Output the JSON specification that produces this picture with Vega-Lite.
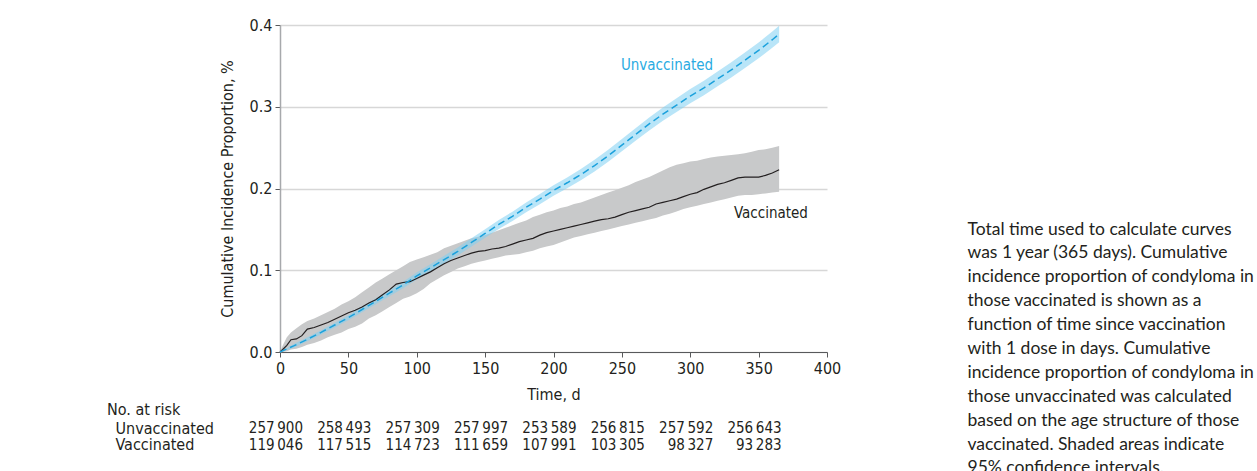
{
  "$schema": "https://vega.github.io/schema/vega-lite/v6.json",
  "padding": {"left": 107, "top": 17, "right": 0, "bottom": 0},
  "background": "white",
  "config": {
    "view": {"stroke": null},
    "font": "Liberation Sans Narrow, DejaVu Sans Condensed, Roboto, sans-serif",
    "locale": {"number": {"decimal": ".", "thousands": "\u2009", "grouping": [3], "currency": ["$", ""]}},
    "axis": {"labelFontSize": 16, "titleFontSize": 16, "labelColor": "#231f20", "titleColor": "#231f20", "titleFontWeight": "normal"}
  },
  "datasets": {
    "vaccinated": [
      {"day": 0, "est": 0.000, "lo": 0.000, "hi": 0.000},
      {"day": 2, "est": 0.003, "lo": 0.000, "hi": 0.008},
      {"day": 5, "est": 0.008, "lo": 0.001, "hi": 0.018},
      {"day": 8, "est": 0.015, "lo": 0.003, "hi": 0.024},
      {"day": 12, "est": 0.016, "lo": 0.004, "hi": 0.029},
      {"day": 16, "est": 0.020, "lo": 0.006, "hi": 0.034},
      {"day": 20, "est": 0.028, "lo": 0.009, "hi": 0.038},
      {"day": 25, "est": 0.030, "lo": 0.011, "hi": 0.041},
      {"day": 30, "est": 0.033, "lo": 0.014, "hi": 0.045},
      {"day": 35, "est": 0.036, "lo": 0.018, "hi": 0.049},
      {"day": 40, "est": 0.040, "lo": 0.021, "hi": 0.053},
      {"day": 45, "est": 0.044, "lo": 0.024, "hi": 0.058},
      {"day": 50, "est": 0.048, "lo": 0.028, "hi": 0.062},
      {"day": 55, "est": 0.051, "lo": 0.031, "hi": 0.067},
      {"day": 60, "est": 0.055, "lo": 0.035, "hi": 0.073},
      {"day": 65, "est": 0.060, "lo": 0.041, "hi": 0.079},
      {"day": 70, "est": 0.064, "lo": 0.045, "hi": 0.085},
      {"day": 75, "est": 0.070, "lo": 0.050, "hi": 0.090},
      {"day": 80, "est": 0.076, "lo": 0.055, "hi": 0.095},
      {"day": 85, "est": 0.083, "lo": 0.060, "hi": 0.100},
      {"day": 90, "est": 0.085, "lo": 0.065, "hi": 0.105},
      {"day": 95, "est": 0.086, "lo": 0.068, "hi": 0.110},
      {"day": 100, "est": 0.090, "lo": 0.072, "hi": 0.113},
      {"day": 105, "est": 0.094, "lo": 0.077, "hi": 0.116},
      {"day": 110, "est": 0.098, "lo": 0.084, "hi": 0.119},
      {"day": 115, "est": 0.103, "lo": 0.089, "hi": 0.122},
      {"day": 120, "est": 0.108, "lo": 0.094, "hi": 0.127},
      {"day": 125, "est": 0.112, "lo": 0.098, "hi": 0.130},
      {"day": 130, "est": 0.115, "lo": 0.102, "hi": 0.133},
      {"day": 135, "est": 0.118, "lo": 0.105, "hi": 0.136},
      {"day": 140, "est": 0.121, "lo": 0.108, "hi": 0.139},
      {"day": 145, "est": 0.123, "lo": 0.110, "hi": 0.141},
      {"day": 150, "est": 0.124, "lo": 0.112, "hi": 0.143},
      {"day": 155, "est": 0.126, "lo": 0.114, "hi": 0.146},
      {"day": 160, "est": 0.127, "lo": 0.116, "hi": 0.149},
      {"day": 165, "est": 0.129, "lo": 0.118, "hi": 0.152},
      {"day": 170, "est": 0.132, "lo": 0.119, "hi": 0.155},
      {"day": 175, "est": 0.135, "lo": 0.120, "hi": 0.158},
      {"day": 180, "est": 0.137, "lo": 0.122, "hi": 0.161},
      {"day": 185, "est": 0.139, "lo": 0.124, "hi": 0.165},
      {"day": 190, "est": 0.143, "lo": 0.127, "hi": 0.168},
      {"day": 195, "est": 0.146, "lo": 0.129, "hi": 0.171},
      {"day": 200, "est": 0.148, "lo": 0.131, "hi": 0.173},
      {"day": 205, "est": 0.150, "lo": 0.134, "hi": 0.176},
      {"day": 210, "est": 0.152, "lo": 0.137, "hi": 0.178},
      {"day": 215, "est": 0.154, "lo": 0.140, "hi": 0.181},
      {"day": 220, "est": 0.156, "lo": 0.142, "hi": 0.183},
      {"day": 225, "est": 0.158, "lo": 0.144, "hi": 0.186},
      {"day": 230, "est": 0.160, "lo": 0.146, "hi": 0.189},
      {"day": 235, "est": 0.162, "lo": 0.148, "hi": 0.192},
      {"day": 240, "est": 0.163, "lo": 0.150, "hi": 0.195},
      {"day": 245, "est": 0.165, "lo": 0.152, "hi": 0.198},
      {"day": 250, "est": 0.168, "lo": 0.154, "hi": 0.201},
      {"day": 255, "est": 0.171, "lo": 0.156, "hi": 0.204},
      {"day": 260, "est": 0.173, "lo": 0.158, "hi": 0.208},
      {"day": 265, "est": 0.175, "lo": 0.160, "hi": 0.211},
      {"day": 270, "est": 0.177, "lo": 0.162, "hi": 0.214},
      {"day": 275, "est": 0.181, "lo": 0.164, "hi": 0.218},
      {"day": 280, "est": 0.183, "lo": 0.167, "hi": 0.222},
      {"day": 285, "est": 0.185, "lo": 0.169, "hi": 0.226},
      {"day": 290, "est": 0.187, "lo": 0.172, "hi": 0.229},
      {"day": 295, "est": 0.190, "lo": 0.175, "hi": 0.231},
      {"day": 300, "est": 0.193, "lo": 0.177, "hi": 0.233},
      {"day": 305, "est": 0.195, "lo": 0.179, "hi": 0.234},
      {"day": 310, "est": 0.199, "lo": 0.181, "hi": 0.236},
      {"day": 315, "est": 0.202, "lo": 0.183, "hi": 0.238},
      {"day": 320, "est": 0.205, "lo": 0.185, "hi": 0.239},
      {"day": 325, "est": 0.207, "lo": 0.187, "hi": 0.240},
      {"day": 330, "est": 0.210, "lo": 0.189, "hi": 0.241},
      {"day": 335, "est": 0.213, "lo": 0.191, "hi": 0.242},
      {"day": 340, "est": 0.214, "lo": 0.192, "hi": 0.243},
      {"day": 345, "est": 0.214, "lo": 0.192, "hi": 0.245},
      {"day": 350, "est": 0.214, "lo": 0.193, "hi": 0.247},
      {"day": 355, "est": 0.216, "lo": 0.194, "hi": 0.248},
      {"day": 360, "est": 0.219, "lo": 0.195, "hi": 0.250},
      {"day": 365, "est": 0.223, "lo": 0.196, "hi": 0.252}
    ],
    "unvaccinated": [
      {"day": 0, "est": 0.000, "lo": 0.000, "hi": 0.000},
      {"day": 10, "est": 0.0075, "lo": 0.0053, "hi": 0.0097},
      {"day": 20, "est": 0.0155, "lo": 0.0131, "hi": 0.0179},
      {"day": 30, "est": 0.024, "lo": 0.0213, "hi": 0.0267},
      {"day": 40, "est": 0.033, "lo": 0.0301, "hi": 0.0359},
      {"day": 50, "est": 0.042, "lo": 0.0389, "hi": 0.0451},
      {"day": 60, "est": 0.052, "lo": 0.0487, "hi": 0.0553},
      {"day": 70, "est": 0.062, "lo": 0.0585, "hi": 0.0655},
      {"day": 80, "est": 0.072, "lo": 0.0682, "hi": 0.0758},
      {"day": 90, "est": 0.082, "lo": 0.078, "hi": 0.086},
      {"day": 100, "est": 0.093, "lo": 0.0888, "hi": 0.0972},
      {"day": 110, "est": 0.103, "lo": 0.0986, "hi": 0.1074},
      {"day": 120, "est": 0.113, "lo": 0.1084, "hi": 0.1176},
      {"day": 130, "est": 0.123, "lo": 0.1181, "hi": 0.1279},
      {"day": 140, "est": 0.134, "lo": 0.1289, "hi": 0.1391},
      {"day": 150, "est": 0.145, "lo": 0.1397, "hi": 0.1503},
      {"day": 160, "est": 0.156, "lo": 0.1505, "hi": 0.1615},
      {"day": 170, "est": 0.166, "lo": 0.1603, "hi": 0.1717},
      {"day": 180, "est": 0.177, "lo": 0.171, "hi": 0.183},
      {"day": 190, "est": 0.187, "lo": 0.1808, "hi": 0.1932},
      {"day": 200, "est": 0.1976, "lo": 0.1912, "hi": 0.204},
      {"day": 210, "est": 0.207, "lo": 0.2004, "hi": 0.2136},
      {"day": 220, "est": 0.217, "lo": 0.2102, "hi": 0.2238},
      {"day": 230, "est": 0.228, "lo": 0.2209, "hi": 0.2351},
      {"day": 240, "est": 0.240, "lo": 0.2327, "hi": 0.2473},
      {"day": 250, "est": 0.253, "lo": 0.2455, "hi": 0.2605},
      {"day": 260, "est": 0.266, "lo": 0.2583, "hi": 0.2737},
      {"day": 270, "est": 0.279, "lo": 0.2711, "hi": 0.2869},
      {"day": 280, "est": 0.291, "lo": 0.2828, "hi": 0.2992},
      {"day": 290, "est": 0.302, "lo": 0.2936, "hi": 0.3104},
      {"day": 300, "est": 0.313, "lo": 0.3044, "hi": 0.3216},
      {"day": 310, "est": 0.323, "lo": 0.3142, "hi": 0.3318},
      {"day": 320, "est": 0.334, "lo": 0.325, "hi": 0.343},
      {"day": 330, "est": 0.345, "lo": 0.3357, "hi": 0.3543},
      {"day": 340, "est": 0.357, "lo": 0.3475, "hi": 0.3665},
      {"day": 350, "est": 0.369, "lo": 0.3593, "hi": 0.3787},
      {"day": 360, "est": 0.382, "lo": 0.3721, "hi": 0.3919},
      {"day": 365, "est": 0.389, "lo": 0.379, "hi": 0.399}
    ],
    "labels": [
      {"label": "Unvaccinated", "day": 283, "value": 0.351},
      {"label": "Vaccinated", "day": 359, "value": 0.170}
    ],
    "atrisk": [
      {"group": "Unvaccinated", "day": 0, "n": 257900},
      {"group": "Unvaccinated", "day": 50, "n": 258493},
      {"group": "Unvaccinated", "day": 100, "n": 257309},
      {"group": "Unvaccinated", "day": 150, "n": 257997},
      {"group": "Unvaccinated", "day": 200, "n": 253589},
      {"group": "Unvaccinated", "day": 250, "n": 256815},
      {"group": "Unvaccinated", "day": 300, "n": 257592},
      {"group": "Unvaccinated", "day": 350, "n": 256643},
      {"group": "Vaccinated", "day": 0, "n": 119046},
      {"group": "Vaccinated", "day": 50, "n": 117515},
      {"group": "Vaccinated", "day": 100, "n": 114723},
      {"group": "Vaccinated", "day": 150, "n": 111659},
      {"group": "Vaccinated", "day": 200, "n": 107991},
      {"group": "Vaccinated", "day": 250, "n": 103305},
      {"group": "Vaccinated", "day": 300, "n": 98327},
      {"group": "Vaccinated", "day": 350, "n": 93283}
    ],
    "caption": [
      {"text": "Total time used to calculate curves\nwas 1 year (365 days). Cumulative\nincidence proportion of condyloma in\nthose vaccinated is shown as a\nfunction of time since vaccination\nwith 1 dose in days. Cumulative\nincidence proportion of condyloma in\nthose unvaccinated was calculated\nbased on the age structure of those\nvaccinated. Shaded areas indicate\n95% confidence intervals."}
    ]
  },
  "spacing": 126,
  "hconcat": [
    {
      "spacing": 0,
      "vconcat": [
        {
          "width": 547,
          "height": 327,
          "layer": [
            {
              "data": {"name": "vaccinated"},
              "mark": {"type": "area", "color": "#c8c9ca", "opacity": 1},
              "encoding": {
                "x": {"field": "day", "type": "quantitative", "scale": {"domain": [0, 400]},
                  "axis": {"values": [0, 50, 100, 150, 200, 250, 300, 350, 400], "title": "Time, d", "grid": false, "labelFlush": false, "domainColor": "#58595b", "tickColor": "#58595b", "tickSize": 5, "labelPadding": 3, "titlePadding": 10}},
                "y": {"field": "lo", "type": "quantitative", "scale": {"domain": [0, 0.4]},
                  "axis": {"values": [0, 0.1, 0.2, 0.3, 0.4], "format": ".1f", "title": "Cumulative Incidence Proportion, %", "grid": true, "gridColor": "#d7d7d7", "gridWidth": 1.5, "domainColor": "#a7a9ac", "domainWidth": 1.5, "tickColor": "#58595b", "tickSize": 5, "labelPadding": 3, "titlePadding": 14}},
                "y2": {"field": "hi"}
              }
            },
            {
              "data": {"name": "unvaccinated"},
              "mark": {"type": "area", "color": "#7fcff2", "opacity": 0.55},
              "encoding": {
                "x": {"field": "day", "type": "quantitative"},
                "y": {"field": "lo", "type": "quantitative"},
                "y2": {"field": "hi"}
              }
            },
            {
              "data": {"name": "vaccinated"},
              "mark": {"type": "line", "color": "#231f20", "strokeWidth": 1.2},
              "encoding": {
                "x": {"field": "day", "type": "quantitative"},
                "y": {"field": "est", "type": "quantitative"}
              }
            },
            {
              "data": {"name": "unvaccinated"},
              "mark": {"type": "line", "color": "#1ba1dc", "strokeWidth": 1.5, "strokeDash": [7, 4]},
              "encoding": {
                "x": {"field": "day", "type": "quantitative"},
                "y": {"field": "est", "type": "quantitative"}
              }
            },
            {
              "data": {"name": "labels"},
              "mark": {"type": "text", "fontSize": 15, "align": "center", "baseline": "middle"},
              "encoding": {
                "x": {"field": "day", "type": "quantitative"},
                "y": {"field": "value", "type": "quantitative"},
                "text": {"field": "label", "type": "nominal"},
                "color": {"field": "label", "type": "nominal", "scale": {"domain": ["Unvaccinated", "Vaccinated"], "range": ["#29abe2", "#231f20"]}, "legend": null}
              }
            }
          ]
        },
        {
          "width": 547,
          "height": 33,
          "title": {"text": "No. at risk", "anchor": "start", "frame": "bounds", "dx": -8, "offset": -14, "fontSize": 16, "fontWeight": "normal", "color": "#231f20", "baseline": "bottom"},
          "data": {"name": "atrisk"},
          "mark": {"type": "text", "align": "right", "dx": 23, "fontSize": 15, "color": "#231f20"},
          "encoding": {
            "x": {"field": "day", "type": "quantitative", "scale": {"domain": [0, 400]}, "axis": null},
            "y": {"field": "group", "type": "nominal", "scale": {"type": "point", "padding": 0.5, "domain": ["Unvaccinated", "Vaccinated"]},
              "axis": {"title": null, "domain": false, "ticks": false, "labelAlign": "left", "labelPadding": 165}},
            "text": {"field": "n", "type": "quantitative", "format": ",d"}
          }
        }
      ]
    },
    {
      "width": 1,
      "height": 1,
      "data": {"name": "caption"},
      "mark": {"type": "text", "align": "left", "baseline": "top", "font": "Lato", "fontSize": 17.5, "lineHeight": 23.9, "lineBreak": "\n", "color": "#231f20", "dy": 195},
      "encoding": {"text": {"field": "text", "type": "nominal"}}
    }
  ]
}
